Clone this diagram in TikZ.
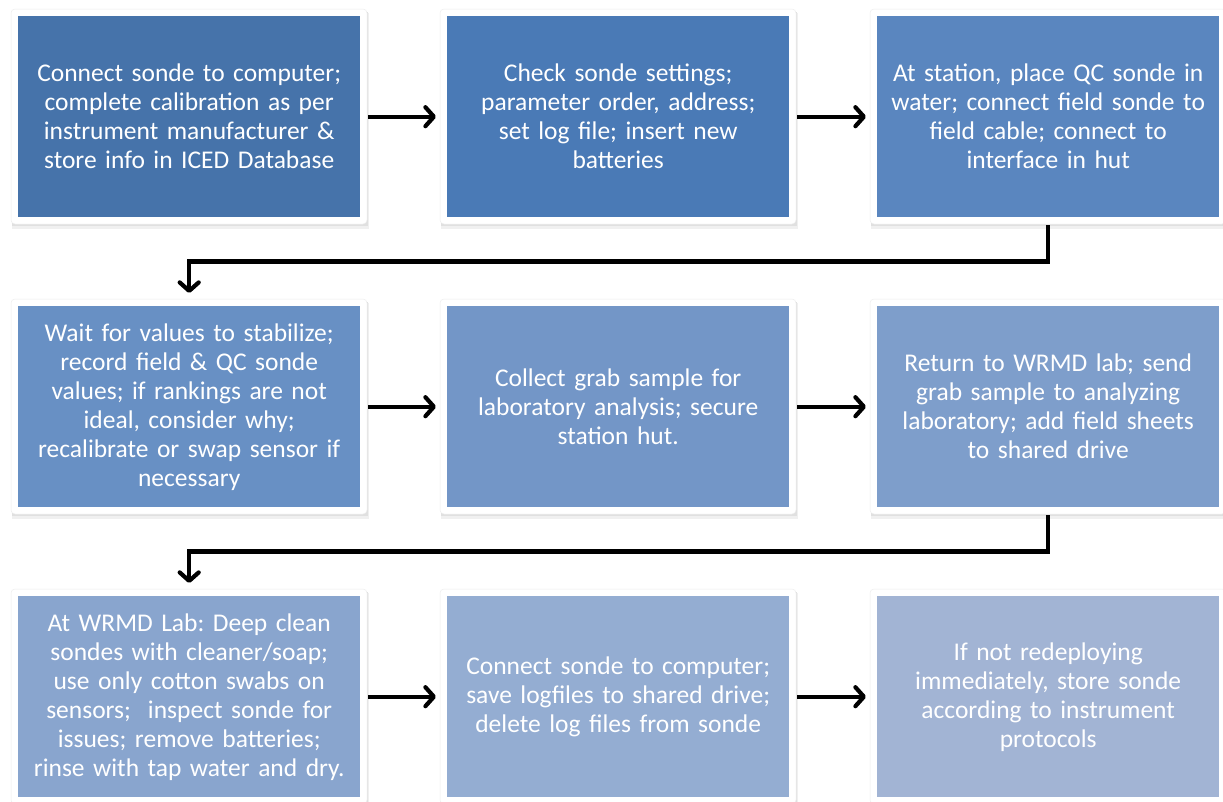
\documentclass[tikz,border=0pt]{standalone}
\usepackage{fontspec}
\setmainfont{Carlito}
\frenchspacing
\usetikzlibrary{arrows.meta}
\definecolor{cA}{HTML}{4673AA}
\definecolor{cB}{HTML}{4A7AB6}
\definecolor{cC}{HTML}{5A86BF}
\definecolor{cD}{HTML}{6890C4}
\definecolor{cE}{HTML}{7396C7}
\definecolor{cF}{HTML}{7E9ECB}
\definecolor{cG}{HTML}{89A5CE}
\definecolor{cH}{HTML}{94ADD2}
\definecolor{cI}{HTML}{A2B4D4}
\tikzset{
  stepbox/.style={minimum width=342pt, minimum height=201pt, inner sep=0pt,
    text width=336pt, align=center, text=white,
    font=\fontsize{25.5}{29}\selectfont\frenchspacing, anchor=north west},
  arr/.style={line width=4.2pt, -{Straight Barb[length=8.5pt,width=19pt,line width=4.2pt,round]}},
}
\newcommand{\framedbox}[4]{%
  \fill[black!6] (#2-7,#3-7) ++(1,4) rectangle ++(357,216);
  \fill[black!12] (#2-7,#3-7) ++(1,3) rectangle ++(356,214);
  \fill[white,draw=black!7,line width=0.5pt,rounded corners=4pt] (#2-7,#3-7) rectangle ++(356,215);
  \node[stepbox,fill=#4] (#1) at (#2,#3) {};
}
\begin{document}
\begin{tikzpicture}[x=1pt,y=-1pt]
\useasboundingbox[fill=white] (0,0) rectangle (1223,801);
% row 1
\framedbox{b1}{18}{16}{cA}
\framedbox{b2}{447}{16}{cB}
\framedbox{b3}{877}{16}{cC}
% row 2
\framedbox{b4}{18}{306}{cD}
\framedbox{b5}{447}{306}{cE}
\framedbox{b6}{877}{306}{cF}
% row 3
\framedbox{b7}{18}{596}{cG}
\framedbox{b8}{447}{596}{cH}
\framedbox{b9}{877}{596}{cI}
% texts
\node[stepbox,anchor=center,fill=none] at (b1.center) {Connect sonde to computer;\\complete calibration as per\\instrument manufacturer \&\\store info in ICED Database};
\node[stepbox,anchor=center,fill=none] at (b2.center) {Check sonde settings;\\parameter order, address;\\set log file; insert new\\batteries};
\node[stepbox,anchor=center,fill=none] at (b3.center) {At station, place QC sonde in\\water; connect field sonde to\\field cable; connect to\\interface in hut};
\node[stepbox,anchor=center,fill=none] at (b4.center) {Wait for values to stabilize;\\record field \& QC sonde\\values; if rankings are not\\ideal, consider why;\\recalibrate or swap sensor if\\necessary};
\node[stepbox,anchor=center,fill=none] at (b5.center) {Collect grab sample for\\laboratory analysis; secure\\station hut.};
\node[stepbox,anchor=center,fill=none] at (b6.center) {Return to WRMD lab; send\\grab sample to analyzing\\laboratory; add field sheets\\to shared drive};
\node[stepbox,anchor=center,fill=none] at (b7.center) {At WRMD Lab: Deep clean\\sondes with cleaner/soap;\\use only cotton swabs on\\sensors;\ \ inspect sonde for\\issues; remove batteries;\\rinse with tap water and dry.};
\node[stepbox,anchor=center,fill=none] at (b8.center) {Connect sonde to computer;\\save logfiles to shared drive;\\delete log files from sonde};
\node[stepbox,anchor=center,fill=none] at (b9.center) {If not redeploying\\immediately, store sonde\\according to instrument\\protocols};
% horizontal arrows
\draw[arr] ([xshift=8pt]b1.east) -- ([xshift=-11pt]b2.west);
\draw[arr] ([xshift=8pt]b2.east) -- ([xshift=-11pt]b3.west);
\draw[arr] ([xshift=8pt]b4.east) -- ([xshift=-11pt]b5.west);
\draw[arr] ([xshift=8pt]b5.east) -- ([xshift=-11pt]b6.west);
\draw[arr] ([xshift=8pt]b7.east) -- ([xshift=-11pt]b8.west);
\draw[arr] ([xshift=8pt]b8.east) -- ([xshift=-11pt]b9.west);
% elbow arrows
\draw[arr] ([yshift=-8pt]b3.south) |- ++(-430,36) -| ([yshift=13pt]b4.north);
\draw[arr] ([yshift=-8pt]b6.south) |- ++(-430,36) -| ([yshift=13pt]b7.north);
\end{tikzpicture}
\end{document}
